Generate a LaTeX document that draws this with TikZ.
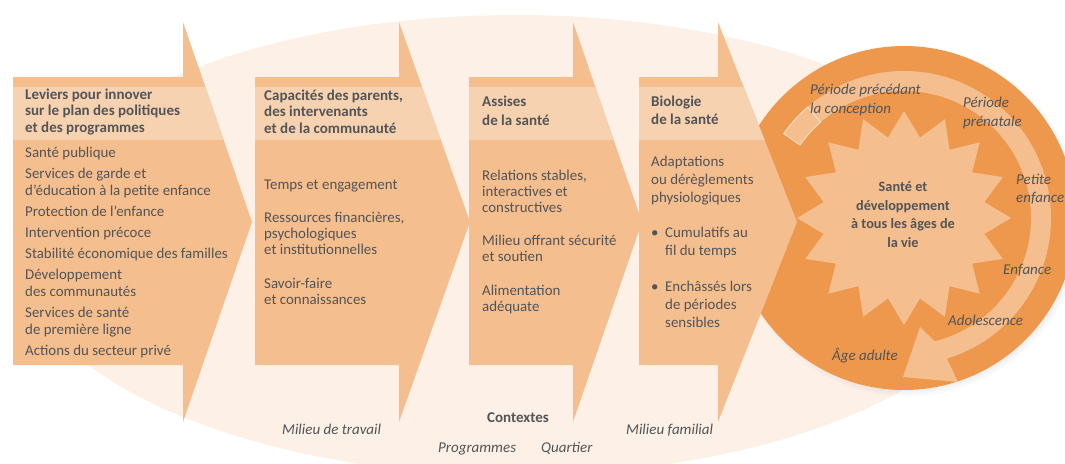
\documentclass[tikz,border=0pt]{standalone}
\usepackage{fontspec}
\setmainfont{Carlito}
\usetikzlibrary{shadows}
\definecolor{fond}{HTML}{FCF0E7}
\definecolor{fleche}{HTML}{F4BE8E}
\definecolor{bande}{HTML}{F7D2B0}
\definecolor{cercle}{HTML}{ED984C}
\definecolor{texte}{HTML}{535456}
\begin{document}
\begin{tikzpicture}[x=1pt, y=1pt,
  titre/.style={anchor=base west, align=left, inner sep=0pt, text=texte, font=\bfseries\fontsize{15}{16.5}\selectfont},
  liste/.style={anchor=base west, align=left, inner sep=0pt, text=texte, font=\fontsize{14.9}{17}\selectfont},
  age/.style={anchor=base west, align=left, inner sep=0pt, text=texte, font=\itshape\fontsize{15}{19}\selectfont}]
\useasboundingbox (0,0) rectangle (1065,-463);
\fill[fond] (515,-245) ellipse [x radius=500, y radius=230];
% cercle des ages
\fill[cercle, circular drop shadow={shadow scale=1.02, shadow xshift=3pt, shadow yshift=-3pt, opacity=.4}] (904,-218) circle [radius=172];
\begin{scope}[shift={(904,-218)}]
\fill[fleche] (145:147) arc [start angle=145, end angle=-73, radius=147] -- (54,-164) -- (-1,-159) -- (16,-109) -- (-76:127) arc [start angle=-76, end angle=145, radius=127] -- cycle;
\draw[white, opacity=.6, line width=.8pt] (145:127) -- (145:147) arc [start angle=145, end angle=131, radius=147] -- (131:127) arc [start angle=131, end angle=145, radius=127] -- cycle;
\fill[fleche] (90:107) \foreach \i in {1,...,31} {-- ({90+11.25*\i}:{107-25*mod(\i,2)})} -- cycle;
\end{scope}
% les quatre fleches
\fill[fleche] (13,-77) -- (183,-77) -- (183,-22) -- (252,-222) -- (183,-422) -- (183,-365) -- (13,-365) -- cycle;
\fill[bande] (13,-87) -- (205.4,-87) -- (223.7,-140) -- (13,-140) -- cycle;
\fill[fleche] (255,-77) -- (399,-77) -- (399,-22) -- (470,-222) -- (399,-422) -- (399,-365) -- (255,-365) -- cycle;
\fill[bande] (255,-87) -- (422.1,-87) -- (440.9,-140) -- (255,-140) -- cycle;
\fill[fleche] (469,-77) -- (573,-77) -- (573,-22) -- (642,-222) -- (573,-422) -- (573,-365) -- (469,-365) -- cycle;
\fill[bande] (469,-87) -- (595.4,-87) -- (613.7,-140) -- (469,-140) -- cycle;
\fill[fleche] (639,-77) -- (718,-77) -- (718,-22) -- (797,-222) -- (718,-422) -- (718,-365) -- (639,-365) -- cycle;
\fill[bande] (639,-87) -- (743.7,-87) -- (764.6,-140) -- (639,-140) -- cycle;
% textes (ancre sur la derniere ligne)
\node[titre] (titre1) at (25,-132) {Leviers pour innover\\sur le plan des politiques\\et des programmes};
\node[liste] (liste1) at (25,-355) {Santé publique\\[4pt]Services de garde et\\d’éducation à la petite enfance\\[4pt]Protection de l’enfance\\[4pt]Intervention précoce\\[4pt]Stabilité économique des familles\\[4pt]Développement\\des communautés\\[4pt]Services de santé\\de première ligne\\[4pt]Actions du secteur privé};
\node[titre] (titre2) at (264,-133) {Capacités des parents,\\des intervenants\\et de la communauté};
\node[liste, font=\fontsize{14.9}{16}\selectfont] (liste2) at (264,-304) {Temps et engagement\\[17pt]Ressources financières,\\psychologiques\\et institutionnelles\\[18pt]Savoir-faire\\et connaissances};
\node[titre, font=\bfseries\fontsize{15}{19}\selectfont] (titre3) at (482,-125) {Assises\\de la santé};
\node[liste, font=\fontsize{14.9}{16}\selectfont] (liste3) at (482,-311) {Relations stables,\\interactives et\\constructives\\[17pt]Milieu offrant sécurité\\et soutien\\[18pt]Alimentation\\adéquate};
\node[titre, font=\bfseries\fontsize{15}{18}\selectfont] (titre4) at (651,-124) {Biologie\\de la santé};
\node[liste, font=\fontsize{14.9}{18}\selectfont] (liste4) at (651,-327) {Adaptations\\ou dérèglements\\physiologiques\\[17pt]\makebox[14pt][l]{\textbullet}Cumulatifs au\\\hspace*{14pt}fil du temps\\[18pt]\makebox[14pt][l]{\textbullet}Enchâssés lors\\\hspace*{14pt}de périodes\\\hspace*{14pt}sensibles};
\node[anchor=base, align=center, inner sep=0pt, text=texte, font=\bfseries\fontsize{14.3}{18.5}\selectfont] (centre) at (903,-247) {Santé et\\développement\\à tous les âges de\\la vie};
\node[age] (age1) at (810,-113) {Période précédant\\la conception};
\node[age] (age2) at (963,-126) {Période\\prénatale};
\node[age, font=\itshape\fontsize{15}{18}\selectfont] (age3) at (1016,-202) {Petite\\enfance};
\node[age] (age4) at (1003,-274) {Enfance};
\node[age] (age5) at (948,-325) {Adolescence};
\node[age] (age6) at (832,-360) {Âge adulte};
\node[anchor=base, inner sep=0pt, text=texte, font=\bfseries\fontsize{15}{17}\selectfont] (contextes) at (518,-422) {Contextes};
\node[age] (milieu1) at (282,-434) {Milieu de travail};
\node[age] (programmes) at (438,-452) {Programmes};
\node[age] (quartier) at (541,-452) {Quartier};
\node[age] (milieu2) at (626,-434) {Milieu familial};
\end{tikzpicture}
\end{document}
